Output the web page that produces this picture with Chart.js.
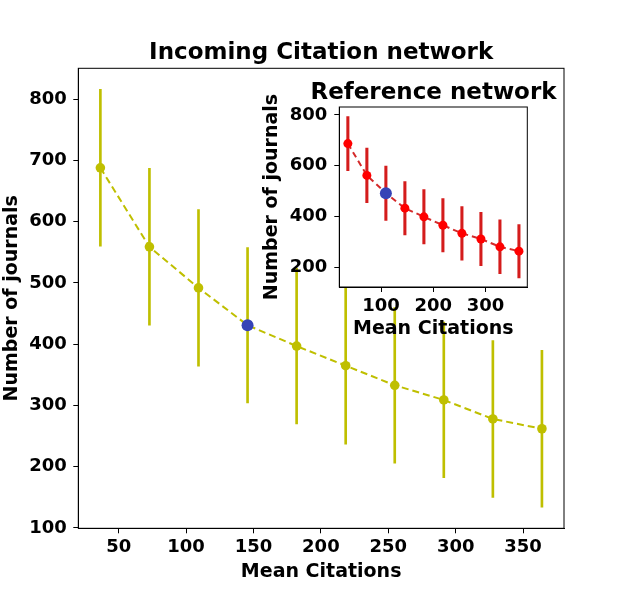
<!DOCTYPE html>
<html>
<head>
<meta charset="utf-8">
<script src="https://cdn.jsdelivr.net/npm/chart.js@4.4.1/dist/chart.umd.min.js"></script>
<style>
  html, body { margin: 0; padding: 0; background: #fff; }
  #wrap { position: relative; width: 627px; height: 597px; }
  #main { position: absolute; left: 0; top: 0; }
  #inset { position: absolute; left: 255px; top: 70px; }
</style>
</head>
<body>
<div id="wrap">
  <canvas id="main" width="627" height="597"></canvas>
  <canvas id="inset" width="357" height="275"></canvas>
</div>
<script>
"use strict";
// values
const citations = [36.4, 72.8, 109.2, 145.6, 182.0, 218.4, 254.8, 291.2, 327.6, 364.0];
const incomingJournals = [688, 559, 492, 431, 397, 365, 333, 309, 278, 262];
const incomingError = [128, 128, 128, 127, 127, 128, 127, 127, 128, 128];
const incomingMarked = 3;
const referenceJournals = [687, 562, 492, 433, 399, 366, 334, 312, 281, 264];
const referenceError = [106, 107, 107, 105, 107, 105, 105, 105, 106, 105];
const referenceMarked = 2;
const mainXTicks = [50, 100, 150, 200, 250, 300, 350];
const mainYTicks = [100, 200, 300, 400, 500, 600, 700, 800];
const insetXTicks = [100, 200, 300];
const insetYTicks = [200, 400, 600, 800];

Chart.defaults.font.family = "'DejaVu Sans', sans-serif";
Chart.defaults.font.weight = 'bold';
Chart.defaults.color = '#000';

function points(ys) {
    return citations.map((x, i) => ({ x: x, y: ys[i] }));
}
function errorBars(ys, err) {
    return citations.map((x, i) => ({ x: x, y: [ys[i] - err[i], ys[i] + err[i]] }));
}
function markedPoint(ys, i) {
    return [{ x: citations[i], y: ys[i] }];
}

function buildAxis(min, max, ticks, label, size, tickPadding, titlePadding) {
    return {
        type: 'linear',
        min: min,
        max: max,
        offset: false,
        afterBuildTicks: function (scale) {
            scale.ticks = ticks.map(v => ({ value: v }));
        },
        afterFit: function (scale) {
            if (scale.isHorizontal()) {
                scale.height = size;
            } else {
                scale.width = size;
            }
        },
        grid: {
            display: true,
            offset: false,
            drawOnChartArea: false,
            drawTicks: true,
            tickLength: 5,
            tickWidth: 1,
            tickColor: '#000'
        },
        border: { display: true, color: '#000', width: 1 },
        ticks: {
            color: '#000',
            font: { size: 18, weight: 'bold' },
            padding: tickPadding,
            autoSkip: false,
            maxRotation: 0
        },
        title: {
            display: true,
            text: label,
            color: '#000',
            font: { size: 19, weight: 'bold', lineHeight: 1.2 },
            padding: titlePadding
        }
    };
}

const frame = {
    id: 'frame',
    afterDraw(chart) {
        const a = chart.chartArea;
        const ctx = chart.ctx;
        ctx.save();
        ctx.strokeStyle = '#000';
        ctx.lineWidth = 1;
        ctx.strokeRect(a.left, a.top, a.right - a.left, a.bottom - a.top);
        ctx.restore();
    }
};
const whiteArea = {
    id: 'whiteArea',
    beforeDraw(chart) {
        const a = chart.chartArea;
        const ctx = chart.ctx;
        ctx.save();
        ctx.fillStyle = '#fff';
        ctx.fillRect(a.left, a.top, a.right - a.left, a.bottom - a.top);
        ctx.restore();
    }
};

const yellow = '#bfbf00';
const blue = '#3643b6';

// main chart
new Chart(document.getElementById('main'), {
    type: 'line',
    data: {
        datasets: [
            {
                type: 'line',
                data: markedPoint(incomingJournals, incomingMarked),
                showLine: false,
                pointRadius: 6,
                pointBorderWidth: 0,
                pointBackgroundColor: blue,
                order: 0
            },
            {
                type: 'line',
                data: points(incomingJournals),
                borderColor: yellow,
                borderWidth: 2,
                borderDash: [7, 4],
                pointRadius: 4.8,
                pointBorderWidth: 0,
                pointBackgroundColor: yellow,
                tension: 0,
                order: 1
            },
            {
                type: 'bar',
                data: errorBars(incomingJournals, incomingError),
                backgroundColor: yellow,
                barThickness: 2,
                order: 2
            }
        ]
    },
    options: {
        responsive: false,
        animation: false,
        layout: { padding: { left: 0, right: 63, top: 0, bottom: 0 } },
        plugins: {
            legend: { display: false },
            tooltip: { enabled: false },
            title: {
                display: true,
                text: 'Incoming Citation network',
                fullSize: false,
                color: '#000',
                font: { size: 23, weight: 'bold', lineHeight: 1.2 },
                padding: { top: 39.7, bottom: 1 }
            }
        },
        scales: {
            x: buildAxis(20.02, 380.38, mainXTicks, 'Mean Citations', 68.7, 3.6, { top: 0, bottom: 13.9 }),
            y: buildAxis(99.5, 850.5, mainYTicks, 'Number of journals', 78.3, 6.6, { top: 0.6, bottom: 0 })
        }
    },
    plugins: [frame]
});

// inset chart
const insetOptions = {
    responsive: false,
    animation: false,
    layout: { padding: 0 },
    plugins: {
        legend: { display: false },
        tooltip: { enabled: false },
        title: {
            display: true,
            text: 'Reference network',
            fullSize: true,
            color: '#000',
            font: { size: 23, weight: 'bold', lineHeight: 1.2 },
            padding: { top: 9.2, bottom: 0.2 }
        }
    },
    scales: {
        x: buildAxis(20, 380, insetXTicks, 'Mean Citations', 58, 3.2, { top: 0, bottom: 4.3 }),
        y: buildAxis(123, 831, insetYTicks, 'Number of journals', 84.3, 7, { top: 5.9, bottom: 0 }),
        yr: {
            type: 'linear',
            position: 'right',
            display: true,
            ticks: { display: false },
            grid: { display: false },
            border: { display: false },
            afterFit: function (scale) { scale.width = 84.7; }
        }
    }
};

new Chart(document.getElementById('inset'), {
    type: 'line',
    data: {
        datasets: [
            {
                type: 'line',
                data: markedPoint(referenceJournals, referenceMarked),
                showLine: false,
                pointRadius: 6,
                pointBorderWidth: 0,
                pointBackgroundColor: blue,
                order: 0
            },
            {
                type: 'line',
                data: points(referenceJournals),
                borderColor: '#d42a2a',
                borderWidth: 2,
                borderDash: [6, 4],
                pointRadius: 4.5,
                pointBorderWidth: 0,
                pointBackgroundColor: '#ff0000',
                tension: 0,
                order: 1
            },
            {
                type: 'bar',
                data: errorBars(referenceJournals, referenceError),
                backgroundColor: '#d41c1c',
                barThickness: 2.4,
                order: 2
            }
        ]
    },
    options: insetOptions,
    plugins: [whiteArea, frame]
});
</script>
</body>
</html>
